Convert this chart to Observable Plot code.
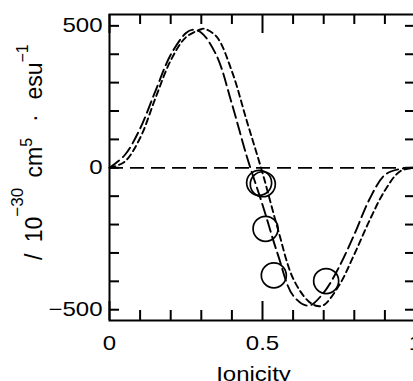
<!DOCTYPE html>
<html><head><meta charset="utf-8">
<script src="https://cdn.jsdelivr.net/npm/d3@7"></script>
<script src="https://cdn.jsdelivr.net/npm/@observablehq/plot@0.6"></script>
<style>
html,body{margin:0;padding:0;background:#fff;}
#chart svg{display:block;}
</style>
</head><body><div id="chart"></div>
<script>
// Long-dashed curve
const curveAx = [0, 0.05, 0.10, 0.15, 0.20, 0.25, 0.27, 0.30, 0.35, 0.40, 0.45, 0.50, 0.55, 0.60, 0.65, 0.70, 0.75, 0.80, 0.85, 0.90, 0.95, 1.00];
const curveAy = [0, 45, 138, 270, 398, 475, 486, 476, 395, 225, 35, -130, -305, -450, -486, -440, -350, -235, -110, -25, -4, 0];
// Short-dashed curve
const curveBx = [0, 0.05, 0.10, 0.15, 0.20, 0.25, 0.30, 0.31, 0.35, 0.40, 0.45, 0.50, 0.55, 0.60, 0.65, 0.68, 0.70, 0.75, 0.80, 0.85, 0.90, 0.95, 1.00];
const curveBy = [0, 22, 105, 245, 378, 460, 488, 490, 462, 340, 160, -18, -215, -390, -470, -487, -484, -415, -305, -185, -80, -12, 0];
// Measured points (circles)
const pointX = [0.489, 0.501, 0.510, 0.537, 0.708];
const pointY = [-53, -58, -215, -379, -399];
// Axes
const xTicks = [0, 0.1, 0.2, 0.3, 0.4, 0.5, 0.6, 0.7, 0.8, 0.9, 1];
const xMajor = [0, 0.5, 1];
const xLabels = ["0", "0.5", "1"];
const yTicks = [-500, -400, -300, -200, -100, 0, 100, 200, 300, 400, 500];
const yMajor = [-500, 0, 500];
const yLabels = ["\u2212500", "0", "500"];
const xTitle = "Ionicity";

const lineA = curveAx.map((x, i) => ({x, y: curveAy[i]}));
const lineB = curveBx.map((x, i) => ({x, y: curveBy[i]}));
const pts = pointX.map((x, i) => ({x, y: pointY[i]}));
const xMinor = xTicks.filter(t => !xMajor.includes(t));

const FONT = "'Liberation Sans', Arial, Helvetica, sans-serif";
const chart = Plot.plot({
  width: 413,
  height: 381,
  marginLeft: 109,
  marginRight: -2,
  marginTop: 14,
  marginBottom: 61,
  x: {domain: [0, 1]},
  y: {domain: [-538, 540]},
  style: {fontFamily: FONT, fontSize: "20px", color: "black", background: "white", overflow: "hidden"},
  marks: [
    Plot.ruleY([0], {stroke: "black", strokeWidth: 1.8, strokeDasharray: "14,7"}),
    Plot.line(lineA, {x: "x", y: "y", curve: "catmull-rom", stroke: "black", strokeWidth: 1.9, strokeDasharray: "12,5"}),
    Plot.line(lineB, {x: "x", y: "y", curve: "catmull-rom", stroke: "black", strokeWidth: 1.9, strokeDasharray: "6,4"}),
    Plot.dot(pts, {x: "x", y: "y", r: 12.5, stroke: "black", strokeWidth: 1.7, fill: "none"}),
    // inward ticks
    Plot.tickX(xMinor, {x: d => d, insetTop: 296, stroke: "black", strokeWidth: 2}),
    Plot.tickX(xMajor, {x: d => d, insetTop: 287, stroke: "black", strokeWidth: 2}),
    Plot.tickX(xMinor, {x: d => d, insetBottom: 296, stroke: "black", strokeWidth: 2}),
    Plot.tickX(xMajor, {x: d => d, insetBottom: 287, stroke: "black", strokeWidth: 2}),
    Plot.tickY(yTicks, {y: d => d, insetRight: 296, stroke: "black", strokeWidth: 2}),
    Plot.tickY(yTicks, {y: d => d, insetLeft: 296, stroke: "black", strokeWidth: 2}),
    Plot.frame({stroke: "black", strokeWidth: 2}),
    Plot.axisX(xMajor, {tickSize: 0, tickPadding: 15, tickFormat: d => xLabels[xMajor.indexOf(d)], label: null, fontSize: 20}),
    Plot.axisY(yMajor, {tickSize: 0, tickPadding: 7, tickFormat: d => yLabels[yMajor.indexOf(d)], label: null, fontSize: 20}),
    Plot.text([xTitle], {frameAnchor: "bottom", lineAnchor: "top", dy: 46, dx: -9, fontSize: 20, fill: "black"})
  ]
});
document.getElementById("chart").appendChild(chart);

// horizontally widen the tick labels and axis title like in the reference
d3.select(chart).selectAll("text").each(function() {
  const tr = this.getAttribute("transform") || "";
  this.setAttribute("transform", tr + " scale(1.2,1)");
});

// rotated y-axis title with superscripts
const t = d3.select(chart).append("text")
  .attr("transform", "translate(42,260) rotate(-90)")
  .attr("text-anchor", "start")
  .attr("font-family", FONT)
  .attr("font-size", 23)
  .attr("fill", "black");
t.append("tspan").text("/");
t.append("tspan").attr("dx", 5).text(" 10");
t.append("tspan").attr("font-size", 17).attr("dy", -19).text("\u221230");
t.append("tspan").attr("dy", 19).attr("dx", 4).text(" cm");
t.append("tspan").attr("font-size", 16).attr("dy", -10).text("5");
t.append("tspan").attr("dy", 10).attr("dx", 9.4).text(" \u00B7");
t.append("tspan").attr("dx", 8.4).text(" esu");
t.append("tspan").attr("font-size", 16).attr("dy", -14).text("\u22121");
</script>
</body></html>
